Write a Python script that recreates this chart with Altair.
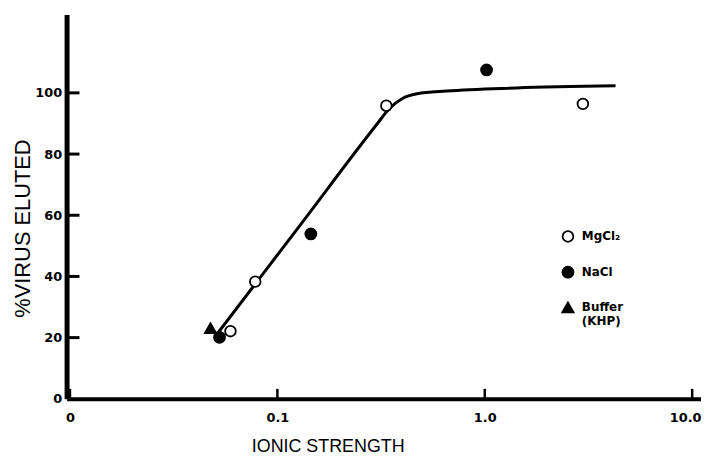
import altair as alt
import pandas as pd

series = ["MgCl\u2082", "NaCl", "Buffer"]

mg_x = [0.0594, 0.0782, 0.3352, 2.972]
mg_y = [22.1, 38.3, 95.8, 96.4]
na_x = [0.0526, 0.1450, 1.020]
na_y = [20.1, 53.9, 107.5]
buf_x = [0.0476]
buf_y = [23.1]

curve_x = [0.0503, 0.1256, 0.3031, 0.346, 0.399, 0.471, 0.656, 1.418, 4.27]
curve_y = [20.5, 55.8, 89.9, 94.8, 98.1, 99.7, 100.6, 101.6, 102.3]

x_domain = [0.00963, 11.03]
y_domain = [0, 125.6]
x_ticks = [0.01, 0.1, 1, 10]
x_tick_labels = ["0", "0.1", "1.0", "10.0"]
y_ticks = [20, 40, 60, 80, 100]
y_label_values = [0, 20, 40, 60, 80, 100]

pts = pd.DataFrame({
    "x": mg_x + na_x + buf_x,
    "y": mg_y + na_y + buf_y,
    "Salt": [series[0]] * len(mg_x) + [series[1]] * len(na_x) + [series[2]] * len(buf_x),
})
curve = pd.DataFrame({"x": curve_x, "y": curve_y, "o": list(range(len(curve_x)))})
ytick_df = pd.DataFrame({"yt": y_ticks})
xtick_df = pd.DataFrame({"xt": x_ticks})

x_scale = alt.Scale(type="log", domain=x_domain, nice=False)
y_scale = alt.Scale(domain=y_domain, nice=False, zero=False)

lab_arr = "[" + ",".join("'%s'" % s for s in x_tick_labels) + "]"
val_arr = "[" + ",".join(repr(v) for v in x_ticks) + "]"

x_axis = alt.Axis(
    values=x_ticks,
    labelExpr=f"{lab_arr}[indexof({val_arr}, datum.value)]",
    title="IONIC STRENGTH",
    titleFont="Liberation Sans", titleFontSize=18, titleFontWeight="normal",
    titleColor="black", titleX=263, titleY=39, titleAlign="center", titleBaseline="top",
    labelFont="DejaVu Sans", labelFontSize=13, labelFontWeight="bold", labelColor="black",
    labelPadding=13,
    labelAlign={"condition": {"test": "datum.value == 10", "value": "right"}, "value": "center"},
    labelOffset={"condition": {"test": "datum.value == 10", "value": 9}, "value": 0},
    ticks=False, tickSize=0, grid=False,
    domainColor="black", domainWidth=4,
)
y_axis = alt.Axis(
    values=y_label_values,
    title="%VIRUS ELUTED",
    titleFont="Liberation Sans", titleFontSize=22, titleFontWeight="normal",
    titleColor="black", titleX=-44.5, titleY=215, titleAngle=270,
    titleAlign="center", titleBaseline="middle",
    labelFont="DejaVu Sans", labelFontSize=13, labelFontWeight="bold", labelColor="black",
    labelPadding=5,
    ticks=False, tickSize=0, grid=False,
    domainColor="black", domainWidth=5,
)

X = alt.X("x:Q", scale=x_scale, axis=x_axis, title="IONIC STRENGTH")
Y = alt.Y("y:Q", scale=y_scale, axis=y_axis, title="%VIRUS ELUTED")
YT = alt.Y("yt:Q", scale=y_scale, axis=y_axis, title="%VIRUS ELUTED")

line_layer = alt.Chart(curve).mark_line(color="black", strokeWidth=3, interpolate="monotone").encode(
    x=X, y=Y, order="o:Q"
)
# inward-pointing x ticks
xtick_layer = alt.Chart(xtick_df).mark_rule(color="black", strokeWidth=2.5).encode(
    x=alt.X("xt:Q", scale=x_scale, axis=x_axis, title="IONIC STRENGTH"),
    y=alt.value(387), y2=alt.value(377)
)
# inward-pointing y ticks
ytick_layer = alt.Chart(ytick_df).mark_rule(color="black", strokeWidth=3).encode(
    y=YT, x=alt.value(0), x2=alt.value(13)
)

legend = alt.Legend(
    title=None, orient="none", legendX=498, legendY=217, padding=0,
    labelFont="DejaVu Sans", labelFontSize=12, labelFontWeight="bold", labelColor="black",
    labelOffset=7, rowPadding=17,
    symbolStrokeColor="black", symbolStrokeWidth=1.8,
    labelExpr="datum.label == 'Buffer' ? ['Buffer', '(KHP)'] : datum.label",
)
point_layer = alt.Chart(pts).mark_point(
    filled=True, strokeWidth=1.8, opacity=1
).encode(
    x=X, y=Y,
    fill=alt.Fill("Salt:N", scale=alt.Scale(domain=series, range=["white", "black", "black"]), legend=legend),
    stroke=alt.Stroke("Salt:N", scale=alt.Scale(domain=series, range=["black", "black", "black"]), legend=legend),
    shape=alt.Shape("Salt:N", scale=alt.Scale(domain=series, range=["circle", "circle", "triangle-up"]), legend=legend),
    size=alt.Size("Salt:N", scale=alt.Scale(domain=series, range=[115, 130, 55]), legend=legend),
)

chart = alt.layer(line_layer, xtick_layer, ytick_layer, point_layer).properties(
    width=639, height=387,
    autosize=alt.AutoSizeParams(type="none"),
    padding={"left": 59, "top": 5, "right": 0, "bottom": 56},
    background="white",
).configure_view(stroke=None)

chart.save("out.html", embed_options={"renderer": "svg", "actions": False})
